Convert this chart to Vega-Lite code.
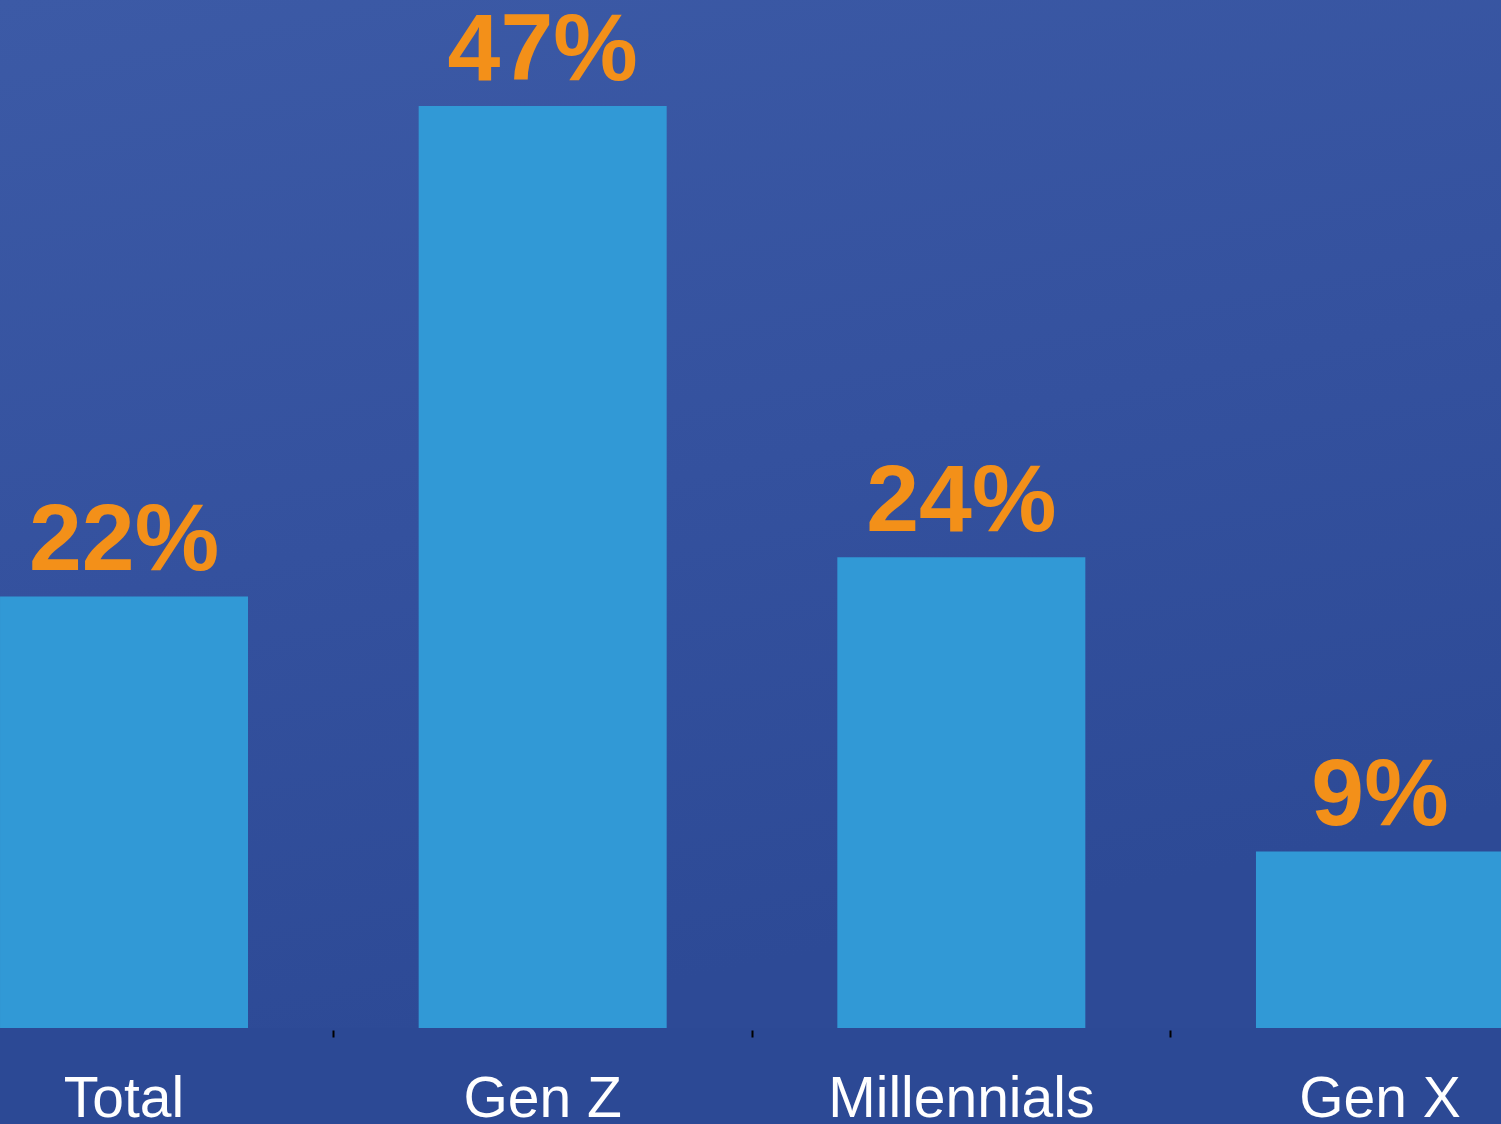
{
  "$schema": "https://vega.github.io/schema/vega-lite/v6.json",
  "width": 1501,
  "height": 1028,
  "autosize": {"type": "none"},
  "padding": {"left": 0, "top": 0, "right": 0, "bottom": 96},
  "background": "#2c4995",
  "config": {
    "view": {"stroke": null, "fill": {"x1": 0, "y1": 0, "x2": 0.3, "y2": 1, "gradient": "linear", "stops": [{"offset": 0, "color": "#3c5aa6"}, {"offset": 0.55, "color": "#34519e"}, {"offset": 1, "color": "#2d4a96"}]}},
    "font": "Liberation Sans"
  },
  "data": {
    "values": [
      {"group": "Total", "share": 0.22},
      {"group": "Gen Z", "share": 0.47},
      {"group": "Millennials", "share": 0.24},
      {"group": "Gen X", "share": 0.09}
    ]
  },
  "encoding": {
    "x": {
      "field": "group",
      "type": "nominal",
      "sort": null,
      "scale": {"range": [-85.3, 1589.3], "paddingInner": 0.4076, "paddingOuter": 0.2038},
      "axis": {
        "title": null,
        "domain": false,
        "offset": 2,
        "ticks": true,
        "bandPosition": -0.344,
        "tickSize": 7,
        "tickWidth": 2,
        "tickColor": "#000000",
        "labelAngle": 0,
        "labelColor": "#ffffff",
        "labelFont": "Liberation Sans",
        "labelFontSize": 57,
        "labelBaseline": "alphabetic",
        "labelPadding": 79,
        "labelLimit": 0,
        "labelOverlap": false
      }
    },
    "y": {
      "field": "share",
      "type": "quantitative",
      "scale": {"domain": [0, 0.524], "nice": false, "zero": true},
      "axis": null
    }
  },
  "layer": [
    {"mark": {"type": "bar", "color": "#3199d6"}},
    {
      "mark": {"type": "text", "color": "#f39019", "font": "Liberation Sans", "fontWeight": "bold", "fontSize": 95, "baseline": "alphabetic", "dy": -26, "align": "center"},
      "encoding": {"text": {"field": "share", "type": "quantitative", "format": ".0%"}}
    }
  ]
}
